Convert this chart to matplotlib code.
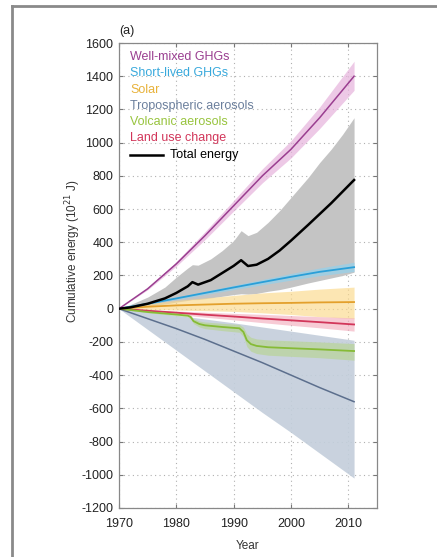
import matplotlib
matplotlib.use("Agg")
import matplotlib.pyplot as plt
from matplotlib.lines import Line2D

plt.rcParams['font.family'] = ['Liberation Sans', 'DejaVu Sans']
plt.rcParams['axes.unicode_minus'] = False

# Smooth forcing components (cumulative energy, 10^21 J)
yrs_smooth = [1970, 1975, 1980, 1985, 1990, 1995, 2000, 2005, 2011]

wmghg = [0, 120, 270, 440, 620, 800, 960, 1150, 1400]
wmghg_lo = [0, 114, 256, 416, 588, 758, 908, 1085, 1315]
wmghg_hi = [0, 126, 284, 464, 652, 842, 1012, 1215, 1490]

slghg = [0, 30, 62, 95, 128, 160, 192, 222, 250]
slghg_lo = [0, 27, 56, 85, 115, 144, 172, 199, 224]
slghg_hi = [0, 33, 68, 105, 141, 176, 212, 245, 280]

solar = [0, 12, 20, 25, 30, 33, 35, 38, 40]
solar_lo = [0, -4, -8, -12, -16, -25, -35, -48, -60]
solar_hi = [0, 30, 50, 65, 80, 95, 105, 118, 130]

landuse = [0, -12, -24, -36, -47, -59, -70, -81, -95]
landuse_lo = [0, -17, -34, -51, -67, -84, -100, -115, -135]
landuse_hi = [0, -7, -14, -21, -28, -34, -41, -48, -55]

tropaer = [0, -60, -120, -185, -255, -325, -400, -475, -560]
tropaer_lo = [0, -125, -250, -375, -500, -625, -745, -870, -1020]
tropaer_hi = [0, -20, -40, -62, -85, -110, -135, -160, -190]

# Volcanic aerosols (El Chichon and Pinatubo steps)
yrs_volc = [1970, 1975, 1980, 1982, 1982.5, 1983, 1984, 1985, 1988, 1991,
            1991.7, 1992.3, 1993, 1994, 1996, 2000, 2005, 2011]
volc = [0, -20, -35, -42, -50, -75, -92, -100, -110, -118,
        -140, -190, -213, -224, -232, -238, -245, -255]
volc_lo = [0, -24, -42, -50, -60, -90, -110, -120, -132, -142,
           -168, -228, -256, -270, -280, -287, -295, -310]
volc_hi = [0, -16, -28, -34, -40, -60, -74, -80, -88, -95,
           -112, -152, -172, -182, -188, -193, -200, -210]

# Total energy
yrs_total = [1970, 1972, 1975, 1978, 1980, 1982, 1982.8, 1983.8, 1986, 1988,
             1990, 1991.3, 1992.5, 1994, 1996, 1998, 2000, 2003, 2005, 2007,
             2009, 2011]
total = [0, 8, 30, 62, 95, 135, 160, 145, 172, 215,
         258, 292, 257, 265, 300, 350, 410, 505, 570, 635, 705, 775]
total_lo = [0, 5, 15, 28, 40, 50, 55, 55, 65, 75,
            85, 90, 88, 92, 105, 115, 130, 155, 170, 185, 200, 220]
total_hi = [0, 25, 70, 130, 190, 245, 265, 262, 300, 350,
            410, 470, 440, 460, 520, 590, 670, 790, 880, 960, 1050, 1150]

labels = ["Well-mixed GHGs", "Short-lived GHGs", "Solar",
          "Tropospheric aerosols", "Volcanic aerosols", "Land use change",
          "Total energy"]
line_colors = ["#9a3e90", "#2a9fd8", "#e3a02c", "#5c6f8d", "#86bb36",
               "#d2365a", "#000000"]
text_colors = ["#9a3e90", "#39a9dc", "#e8b23a", "#6b7f9c", "#98c43e",
               "#d2365a", "#000000"]
band_colors = ["#e6b3dc", "#8fd2f0", "#fbd98a", "#c3cedb", "#b6d48c",
               "#f2a9ba", "#c4c4c4"]

fig = plt.figure(figsize=(4.37, 5.57), dpi=100)
ax = fig.add_axes([0.2723, 0.0880, 0.5904, 0.8348])

# Bands
ax.fill_between(yrs_total, total_lo, total_hi, color=band_colors[6],
                lw=0, zorder=1)
ax.fill_between(yrs_smooth, tropaer_lo, tropaer_hi, color=band_colors[3],
                lw=0, alpha=0.9, zorder=1.2)
ax.fill_between(yrs_smooth, solar_lo, solar_hi, color=band_colors[2],
                lw=0, alpha=0.65, zorder=1.4)
ax.fill_between(yrs_smooth, landuse_lo, landuse_hi, color=band_colors[5],
                lw=0, alpha=0.6, zorder=1.5)
ax.fill_between(yrs_volc, volc_lo, volc_hi, color=band_colors[4],
                lw=0, alpha=0.6, zorder=1.5)
ax.fill_between(yrs_smooth, slghg_lo, slghg_hi, color=band_colors[1],
                lw=0, alpha=0.65, zorder=1.6)
ax.fill_between(yrs_smooth, wmghg_lo, wmghg_hi, color=band_colors[0],
                lw=0, alpha=0.7, zorder=1.6)

# Central lines
ax.plot(yrs_smooth, tropaer, color=line_colors[3], lw=1.1, zorder=3)
ax.plot(yrs_smooth, landuse, color=line_colors[5], lw=1.3, zorder=3)
ax.plot(yrs_volc, volc, color=line_colors[4], lw=1.3, zorder=3)
ax.plot(yrs_smooth, solar, color=line_colors[2], lw=1.3, zorder=3)
ax.plot(yrs_smooth, slghg, color=line_colors[1], lw=1.3, zorder=3)
ax.plot(yrs_smooth, wmghg, color=line_colors[0], lw=1.1, zorder=3)
ax.plot(yrs_total, total, color=line_colors[6], lw=1.8, zorder=4)

ax.set_xlim(1970, 2015)
ax.set_ylim(-1200, 1600)
ax.set_xticks([1970, 1980, 1990, 2000, 2010])
ax.set_yticks(list(range(-1200, 1601, 200)))
ax.grid(True, linestyle=(0, (1, 3)), color="#b0b0b0", lw=0.8)
ax.set_axisbelow(True)
ax.tick_params(direction="in", length=3, width=0.8, colors="#777777",
               labelcolor="#222222", labelsize=9, top=True, right=True)
ax.tick_params(axis="x", pad=7)
ax.tick_params(axis="y", pad=4)
for sp in ax.spines.values():
    sp.set_color("#888888")
    sp.set_linewidth(0.9)

ax.set_xlabel("Year", fontsize=8.5, color="#333333")
ax.xaxis.set_label_coords(0.5, -0.068)
ax.set_ylabel("Cumulative energy (10$^{21}$ J)", fontsize=8.5,
              color="#333333")
ax.yaxis.set_label_coords(-0.14, 0.553)
ax.text(0.0, 1.012, "(a)", transform=ax.transAxes, fontsize=9,
        color="#222222", ha="left", va="bottom")

# Legend drawn as coloured text
x0 = 0.043
y_rows = [57, 73.3, 89.6, 105.9, 122.2, 138.5, 154.8]
for i, lab in enumerate(labels):
    yf = 1 - (y_rows[i] - 43) / 465
    if i < 6:
        ax.text(x0, yf, lab, transform=ax.transAxes, color=text_colors[i],
                fontsize=9, ha="left", va="center", zorder=6)
    else:
        ax.add_line(Line2D([x0, x0 + 0.128], [yf, yf], transform=ax.transAxes,
                           color="black", lw=1.8, zorder=6))
        ax.text(x0 + 0.155, yf, lab, transform=ax.transAxes, color="black",
                fontsize=9, ha="left", va="center", zorder=6)

# Outer frame edges
fig.add_artist(Line2D([12 / 437, 12 / 437], [0, 1 - 5.5 / 557],
                      transform=fig.transFigure, color="#8a8a8a", lw=2))
fig.add_artist(Line2D([12 / 437, 1], [1 - 5.5 / 557, 1 - 5.5 / 557],
                      transform=fig.transFigure, color="#8a8a8a", lw=2))

fig.savefig("out.png", dpi=100)
